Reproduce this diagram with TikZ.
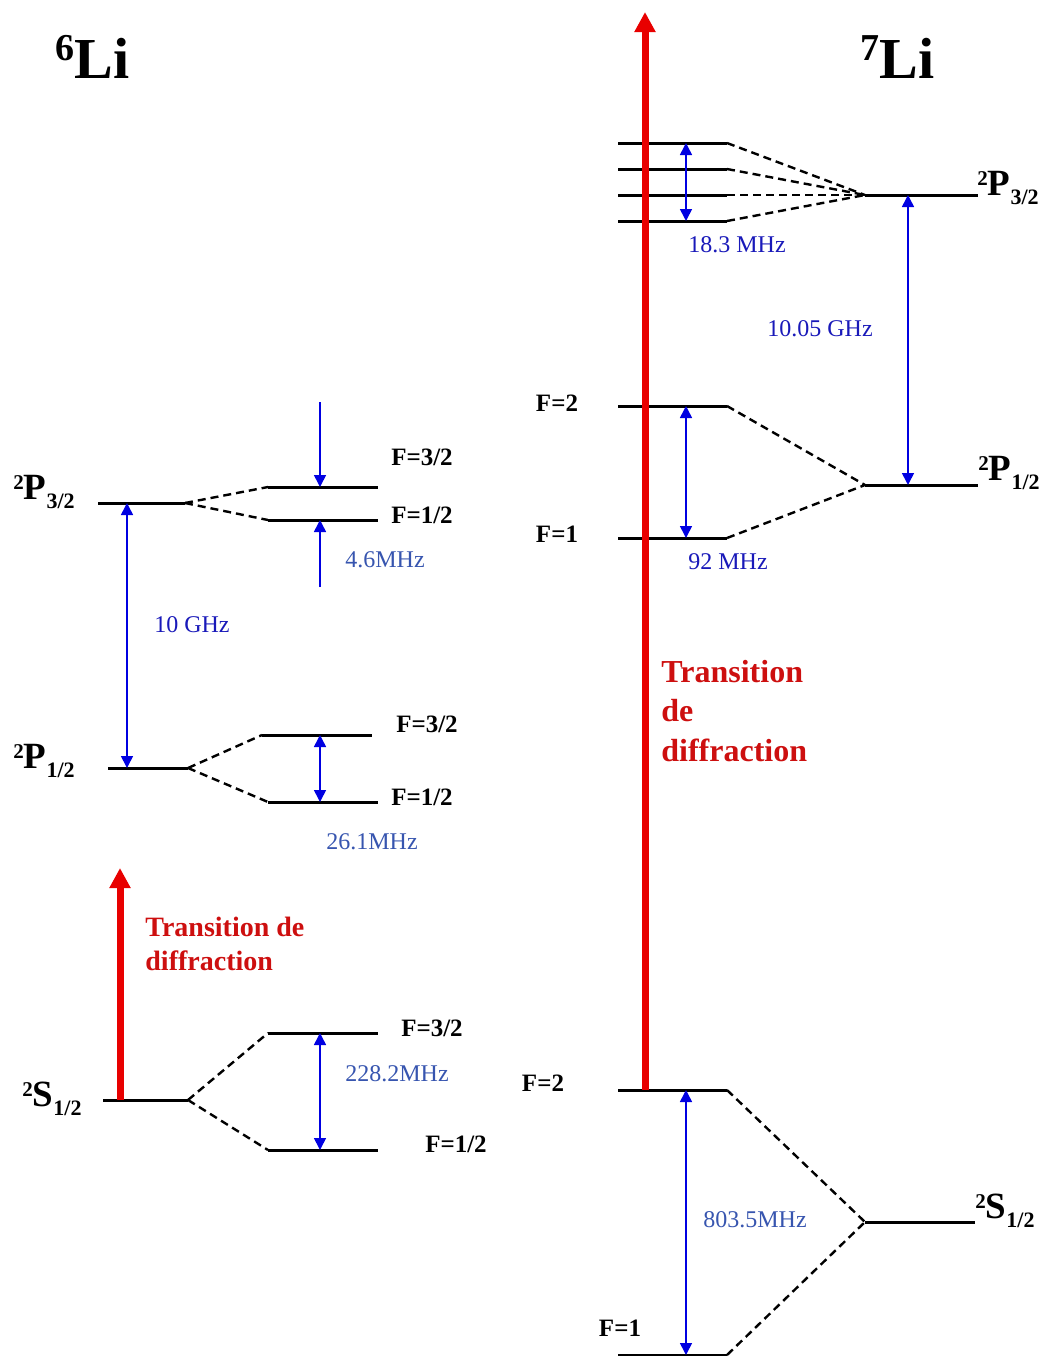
\documentclass[tikz,border=0pt]{standalone}
\usepackage{fontspec}
\setmainfont{Liberation Serif}
\usetikzlibrary{arrows.meta}
\definecolor{dblue}{RGB}{25,25,185}
\definecolor{lblue}{RGB}{55,85,175}
\definecolor{arblue}{RGB}{0,0,225}
\definecolor{lred}{RGB}{232,0,0}
\definecolor{tred}{RGB}{205,15,15}
\newcommand{\lterm}[3]{{\fontsize{10.5}{10.5}\selectfont\raisebox{5pt}{#1}}#2{\fontsize{11}{11}\selectfont\raisebox{-4.5pt}{#3}}}
\begin{document}
\begin{tikzpicture}[x=0.5pt,y=-0.5pt,
  level/.style={line width=1.5pt},
  split/.style={line width=1.2pt,dash pattern=on 4pt off 2.5pt},
  gap/.style={draw=arblue,line width=0.8pt,{Triangle[length=6pt,width=6pt]}-{Triangle[length=6pt,width=6pt]}},
  onearr/.style={draw=arblue,line width=0.8pt,-{Triangle[length=6pt,width=6pt]}},
  trans/.style={draw=lred,line width=3.5pt,-{Triangle[length=10pt,width=10pt]}},
  flab/.style={font=\fontsize{12.5}{14}\selectfont\bfseries,inner sep=0pt},
  tlab/.style={font=\fontsize{18.5}{20}\selectfont\bfseries,inner sep=0pt,anchor=base west},
  dval/.style={font=\fontsize{12}{14}\selectfont,text=dblue,inner sep=0pt},
  lval/.style={font=\fontsize{12}{14}\selectfont,text=lblue,inner sep=0pt},
  title/.style={font=\fontsize{29}{31}\selectfont\bfseries,inner sep=0pt,anchor=base west},
]
\useasboundingbox (0,0) rectangle (1050,1356);

% ===== titles =====
\node[title] (t6) at (55,78) {\raisebox{9pt}{\fontsize{19}{19}\selectfont 6}Li};
\node[title] (t7) at (860,78) {\raisebox{9pt}{\fontsize{19}{19}\selectfont 7}Li};

% ===== 6Li =====
% P3/2
\coordinate (aP3l) at (98,503);  \coordinate (aP3r) at (185,503);
\coordinate (aP3ul) at (268,487); \coordinate (aP3ur) at (378,487);
\coordinate (aP3dl) at (268,520); \coordinate (aP3dr) at (378,520);
\draw[level] (aP3l) -- (aP3r);
\draw[level] (aP3ul) -- (aP3ur);
\draw[level] (aP3dl) -- (aP3dr);
\draw[split] (aP3r) -- (aP3ul);
\draw[split] (aP3r) -- (aP3dl);
\node[tlab] (laP3) at (13,499) {\lterm{2}{P}{3/2}};
\node[flab] (faP3u) at (422,457) {F=3/2};
\node[flab] (faP3d) at (422,515) {F=1/2};
\coordinate (aDownTop) at (320,402); \coordinate (aDownBot) at (320,487);
\coordinate (aUpBot) at (320,587); \coordinate (aUpTop) at (320,520);
\draw[onearr] (aDownTop) -- (aDownBot);
\draw[onearr] (aUpBot) -- (aUpTop);
\node[lval] (v46) at (385,560) {4.6MHz};

% P1/2
\coordinate (aP1l) at (108,768);  \coordinate (aP1r) at (188,768);
\coordinate (aP1ul) at (262,735); \coordinate (aP1ur) at (372,735);
\coordinate (aP1dl) at (268,802); \coordinate (aP1dr) at (378,802);
\draw[level] (aP1l) -- (aP1r);
\draw[level] (aP1ul) -- (aP1ur);
\draw[level] (aP1dl) -- (aP1dr);
\draw[split] (aP1r) -- (aP1ul);
\draw[split] (aP1r) -- (aP1dl);
\node[tlab] (laP1) at (13,768) {\lterm{2}{P}{1/2}};
\node[flab] (faP1u) at (427,724) {F=3/2};
\node[flab] (faP1d) at (422,797) {F=1/2};
\coordinate (aP1at) at (320,735); \coordinate (aP1ab) at (320,802);
\draw[gap] (aP1at) -- (aP1ab);
\node[lval] (v261) at (372,842) {26.1MHz};

% fine structure 6Li
\coordinate (aFt) at (127,503); \coordinate (aFb) at (127,768);
\draw[gap] (aFt) -- (aFb);
\node[dval] (v10) at (192,625) {10 GHz};

% S1/2
\coordinate (aSl) at (103,1100);  \coordinate (aSr) at (188,1100);
\coordinate (aSul) at (268,1033); \coordinate (aSur) at (378,1033);
\coordinate (aSdl) at (268,1150); \coordinate (aSdr) at (378,1150);
\draw[level] (aSl) -- (aSr);
\draw[level] (aSul) -- (aSur);
\draw[level] (aSdl) -- (aSdr);
\draw[split] (aSr) -- (aSul);
\draw[split] (aSr) -- (aSdl);
\node[tlab] (laS) at (22,1106) {\lterm{2}{S}{1/2}};
\node[flab] (faSu) at (432,1028) {F=3/2};
\node[flab] (faSd) at (456,1144) {F=1/2};
\coordinate (aSat) at (320,1033); \coordinate (aSab) at (320,1150);
\draw[gap] (aSat) -- (aSab);
\node[lval] (v2282) at (397,1074) {228.2MHz};

% diffraction transition 6Li
\coordinate (aTb) at (120,1100); \coordinate (aTt) at (120,868);
\draw[trans] (aTb) -- (aTt);
\node[font=\fontsize{14}{17}\selectfont\bfseries,text=tred,align=left,anchor=west,inner sep=0pt] (dtr6) at (145,944) {Transition de\\diffraction};

% ===== 7Li =====
% P3/2
\coordinate (bP3l) at (865,195); \coordinate (bP3r) at (978,195);
\draw[level] (bP3l) -- (bP3r);
\foreach \i/\y in {1/143,2/169,3/195,4/221}{
  \coordinate (bh\i l) at (618,\y); \coordinate (bh\i r) at (727,\y);
  \draw[level] (bh\i l) -- (bh\i r);
  \draw[split] (bh\i r) -- (bP3l);
}
\node[tlab] (lbP3) at (977,195) {\lterm{2}{P}{3/2}};
\coordinate (bhat) at (686,143); \coordinate (bhab) at (686,221);
\draw[gap] (bhat) -- (bhab);
\node[dval] (v183) at (737,245) {18.3 MHz};

% P1/2
\coordinate (bP1l) at (865,485); \coordinate (bP1r) at (978,485);
\coordinate (bP1ul) at (618,406); \coordinate (bP1ur) at (727,406);
\coordinate (bP1dl) at (618,538); \coordinate (bP1dr) at (727,538);
\draw[level] (bP1l) -- (bP1r);
\draw[level] (bP1ul) -- (bP1ur);
\draw[level] (bP1dl) -- (bP1dr);
\draw[split] (bP1ur) -- (bP1l);
\draw[split] (bP1dr) -- (bP1l);
\node[tlab] (lbP1) at (978,480) {\lterm{2}{P}{1/2}};
\node[flab] (fbP1u) at (557,403) {F=2};
\node[flab] (fbP1d) at (557,534) {F=1};
\coordinate (bP1at) at (686,406); \coordinate (bP1ab) at (686,538);
\draw[gap] (bP1at) -- (bP1ab);
\node[dval] (v92) at (728,562) {92 MHz};

% fine structure 7Li
\coordinate (bFt) at (908,195); \coordinate (bFb) at (908,485);
\draw[gap] (bFt) -- (bFb);
\node[dval] (v1005) at (820,329) {10.05 GHz};

% S1/2
\coordinate (bSl) at (865,1222); \coordinate (bSr) at (975,1222);
\coordinate (bSul) at (618,1090); \coordinate (bSur) at (727,1090);
\coordinate (bSdl) at (618,1355); \coordinate (bSdr) at (727,1355);
\draw[level] (bSl) -- (bSr);
\draw[level] (bSul) -- (bSur);
\draw[level] (bSdl) -- (bSdr);
\draw[split] (bSur) -- (bSl);
\draw[split] (bSdr) -- (bSl);
\node[tlab] (lbS) at (975,1218) {\lterm{2}{S}{1/2}};
\node[flab] (fbSu) at (543,1083) {F=2};
\node[flab] (fbSd) at (620,1328) {F=1};
\coordinate (bSat) at (686,1090); \coordinate (bSab) at (686,1355);
\draw[gap] (bSat) -- (bSab);
\node[lval] (v8035) at (755,1220) {803.5MHz};

% diffraction transition 7Li
\coordinate (bTb) at (645,1090); \coordinate (bTt) at (645,12);
\draw[trans] (bTb) -- (bTt);
\node[font=\fontsize{16}{19.75}\selectfont\bfseries,text=tred,align=left,anchor=west,inner sep=0pt] (dtr7) at (661,711) {Transition\\de\\diffraction};
\end{tikzpicture}
\end{document}
